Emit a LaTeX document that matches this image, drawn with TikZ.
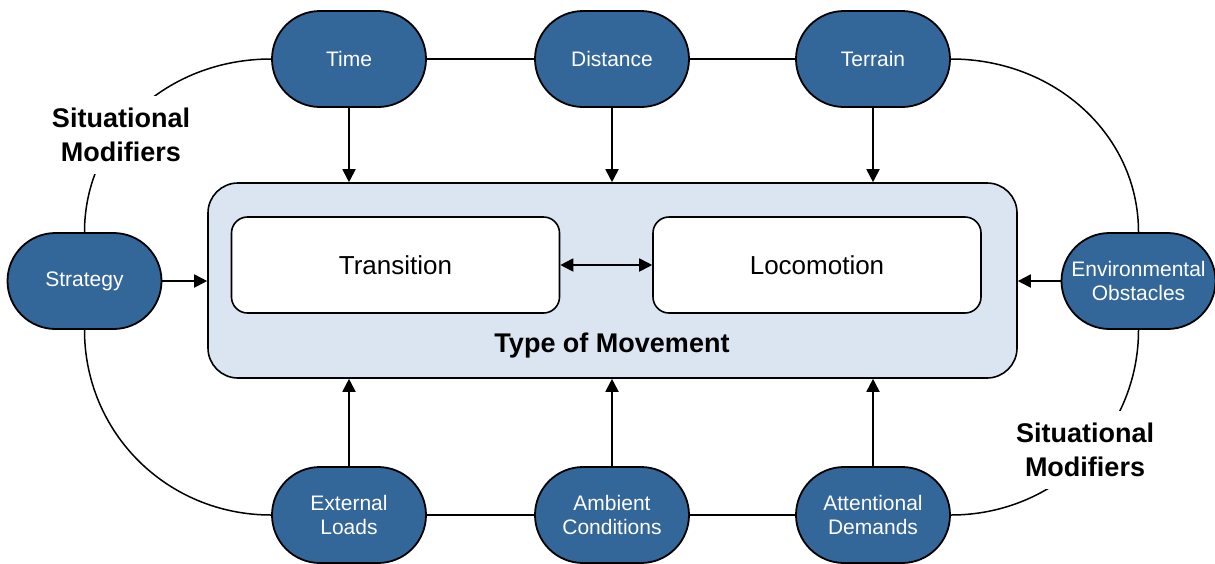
\documentclass[tikz,border=0pt]{standalone}
\usepackage{fontspec}
\setmainfont{Liberation Sans}
\usetikzlibrary{positioning, arrows.meta, calc}

\definecolor{factorblue}{RGB}{51,102,153}
\definecolor{movefill}{RGB}{219,228,241}

\begin{document}
\begin{tikzpicture}[
            x=0.5pt, y=-0.5pt,
            >={Triangle[length=6.5pt, width=6.5pt]},
            factor/.style={rectangle, rounded corners=24pt, draw=black, line width=0.9pt, fill=factorblue, text=white, minimum width=77pt, minimum height=48pt, inner sep=0pt, align=center, font=\fontsize{10.5}{12}\selectfont},
            move/.style={rectangle, rounded corners=15pt, draw=black, line width=0.8pt, fill=movefill, minimum width=404.5pt, minimum height=97.5pt},
            kind/.style={rectangle, rounded corners=8pt, draw=black, line width=0.8pt, fill=white, minimum width=164pt, minimum height=48pt, font=\fontsize{13}{15}\selectfont},
            modlabel/.style={fill=white, inner sep=6pt, align=center, font=\bfseries\fontsize{13.5}{17}\selectfont},
            link/.style={line width=0.75pt},
            flow/.style={->, line width=0.9pt},
        ]
            \useasboundingbox (0,0) rectangle (1215,563);

            % Draw the type of movement block
            \node[move] (move) at (612.5,280.5) {};
            \node[kind] (trans) at (395.5,265) {Transition};
            \node[kind] (loco) at (817,265) {Locomotion};
            \node[font=\bfseries\fontsize{13.5}{16}\selectfont] (tom) at (612,346) {Type of Movement};

            % Draw the situational modifiers
            \foreach \name/\x/\txt in {time/349/Time, dist/612/Distance, terr/873/Terrain}
                \node[factor] (\name) at (\x,59) {\txt};
            \foreach \name/\x/\txt in {load/349/External\\Loads, amb/612/Ambient\\Conditions, att/873/Attentional\\Demands}
                \node[factor] (\name) at (\x,515) {\txt};
            \node[factor] (strat) at (84.5,281) {Strategy};
            \node[factor] (env) at (1138.5,281) {Environmental\\Obstacles};

            % Ring that joins the modifiers
            \draw[link] (time) -- (dist);
            \draw[link] (dist) -- (terr);
            \draw[link] (load) -- (amb);
            \draw[link] (amb) -- (att);
            \draw[link] (time.west) .. controls +(-104,0) and +(0,-97) .. (strat.north);
            \draw[link] (strat.south) .. controls +(0,103) and +(-104,0) .. (load.west);
            \draw[link] (terr.east) .. controls +(104,0) and +(0,-97) .. (env.north);
            \draw[link] (env.south) .. controls +(0,103) and +(104,0) .. (att.east);

            % Connect every modifier with the movement block
            \foreach \name in {time, dist, terr}
                \draw[flow] (\name) -- (\name |- move.north);
            \foreach \name in {load, amb, att}
                \draw[flow] (\name) -- (\name |- move.south);
            \draw[flow] (strat) -- (strat -| move.west);
            \draw[flow] (env) -- (env -| move.east);
            \draw[flow, <->] (trans) -- (loco);

            % Labels sit on top of the ring
            \node[modlabel] (modl) at (121,135) {Situational\\Modifiers};
            \node[modlabel] (modr) at (1085,450) {Situational\\Modifiers};
        \end{tikzpicture}
\end{document}
